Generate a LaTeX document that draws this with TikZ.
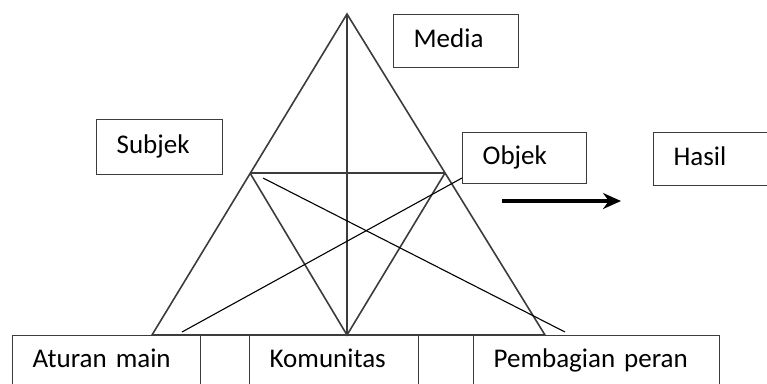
\documentclass[tikz,border=0pt]{standalone}
\usepackage{fontspec}
\setmainfont{Carlito}
\usetikzlibrary{arrows.meta}
\definecolor{edgegray}{RGB}{60,60,60}

\begin{document}
\begin{tikzpicture}[x=1pt, y=-1pt, >={Stealth[length=18pt,width=16pt]},
    box/.style={rectangle, draw=edgegray, fill=white, line width=1.3pt, anchor=north west, inner xsep=20pt, inner ysep=0pt,
                align=left, text height=18pt, text depth=6pt, font=\fontsize{27}{30}\selectfont},
    tri/.style={draw=edgegray, line width=1.6pt},
    cross/.style={draw=black, line width=1.1pt}]

\clip (0,0) rectangle (767,383);

% triangle corners
\coordinate (top) at (347,14);
\coordinate (bl) at (152,335);
\coordinate (br) at (545,335);
\coordinate (ml) at (250,173);
\coordinate (mr) at (445,173);
\coordinate (bm) at (347,335);

% bottom row first, the triangle stands on it
\node [box, minimum height=52pt, text width=148pt] (aturan) at (12,335) {Aturan main};
\node [box, minimum height=52pt, text width=129pt] (komunitas) at (249,335) {Komunitas};
\node [box, minimum height=52pt, text width=206pt] (peran) at (473,335) {Pembagian peran};

\draw [tri] (bl) -- (top) -- (br) -- cycle;
\draw [tri] (ml) -- (mr);
\draw [tri] (top) -- (bm);
\draw [tri] (ml) -- (bm) -- (mr);

\node [box, minimum height=53pt, text width=85pt] (media) at (393,14) {Media};
\node [box, minimum height=55pt, text width=86pt] (subjek) at (96,119) {Subjek};
\node [box, minimum height=51pt, text width=84pt] (objek) at (462,132) {Objek};
\node [box, minimum height=53pt, text width=100pt] (hasil) at (653,132) {Hasil};

\coordinate (c1) at (263,178);
\coordinate (c2) at (565,332);
\coordinate (c3) at (182,332);
\draw [cross] (c1) -- (c2);
\draw [cross] (c3) -- (objek.south west |- 0,178);

\coordinate (a1) at (502,201);
\coordinate (a2) at (621,201);
\draw [->, line width=3.4pt, black] (a1) -- (a2);

\end{tikzpicture}
\end{document}
